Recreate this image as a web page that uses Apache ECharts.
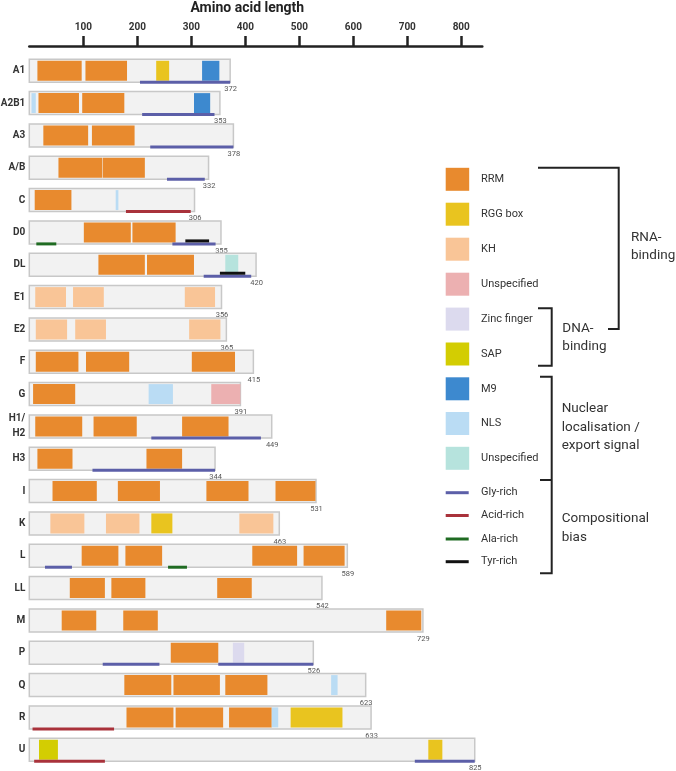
<!DOCTYPE html>
<html><head><meta charset="utf-8">
<script src="https://cdn.jsdelivr.net/npm/echarts@6/dist/echarts.min.js"></script>
<style>html,body{margin:0;padding:0;background:#fff}#c{width:676px;height:771px}</style>
</head><body><div id="c"></div>
<script>
// ---------- DATA ----------
const proteins = ['A1','A2B1','A3','A/B','C','D0','DL','E1','E2','F','G','H1/H2','H3','I','K','L','LL','M','P','Q','R','U'];
const lengths  = [372,353,378,332,306,355,420,356,365,415,391,449,344,531,463,589,542,729,526,623,633,825];
const tickValues = [100,200,300,400,500,600,700,800];

const rrm = [
 ['A1',15,97],['A1',104,181],
 ['A2B1',17,92],['A2B1',98,176],
 ['A3',26,109],['A3',116,195],
 ['A/B',54,135],['A/B',136,214],
 ['C',10,78],
 ['D0',101,188],['D0',191,271],
 ['DL',128,214],['DL',218,305],
 ['F',12,91],['F',105,185],['F',301,381],
 ['G',7,85],
 ['H1/H2',11,98],['H1/H2',119,199],['H1/H2',283,369],
 ['H3',15,80],['H3',217,283],
 ['I',43,125],['I',164,242],['I',328,406],['I',456,530],
 ['L',97,165],['L',178,246],['L',413,496],['L',508,584],
 ['LL',75,140],['LL',152,215],['LL',348,412],
 ['M',60,124],['M',174,238],['M',661,726],
 ['P',262,350],
 ['Q',176,263],['Q',267,353],['Q',363,441],
 ['R',180,267],['R',271,359],['R',370,449]
];
const rggBox     = [['A1',235,259],['K',226,265],['R',484,580],['U',739,765]];
const kh         = [['E1',11,68],['E1',81,138],['E1',288,344],['E2',12,70],['E2',85,142],['E2',296,354],['K',39,102],['K',142,204],['K',389,452]];
const rnaUnspec  = [['G',337,391]];
const zincFinger = [['P',377,398]];
const sap        = [['U',18,53]];
const m9         = [['A1',320,352],['A2B1',305,335]];
const nls        = [['A2B1',4,12],['C',160,165],['G',221,266],['Q',559,571],['R',449,461]];
const nesUnspec  = [['DL',363,387]];
const glyRich    = [['A1',205,372],['A2B1',209,343],['A3',224,378],['A/B',255,325],['D0',265,345],['DL',323,411],['H1/H2',226,429],['H3',117,344],['L',29,79],['P',136,241],['P',350,526],['U',714,825]];
const acidRich   = [['C',179,299],['R',6,157],['U',9,140]];
const alaRich    = [['D0',13,50],['L',257,292]];
const tyrRich    = [['D0',289,333],['DL',353,400]];

const legendBoxLabels  = ['RRM','RGG box','KH','Unspecified','Zinc finger','SAP','M9','NLS','Unspecified'];
const legendLineLabels = ['Gly-rich','Acid-rich','Ala-rich','Tyr-rich'];

// ---------- STYLE ----------
const C = {
  rrm:'#e88a2e', rgg:'#e9c41f', kh:'#f9c597', rnaU:'#ecb0b1', zinc:'#dcdaee', sap:'#d3cd02',
  m9:'#3d89cf', nls:'#badcf4', nesU:'#b6e3dd',
  gly:'#5c5fa8', acid:'#a9323b', ala:'#1f6b22', tyr:'#111111'
};
const boxColors = [C.rrm,C.rgg,C.kh,C.rnaU,C.zinc,C.sap,C.m9,C.nls,C.nesU];
const lineColors = [C.gly,C.acid,C.ala,C.tyr];
const BOX = 0.71;
const FONT = 'Roboto';

const toData = arr => arr.map(d => [proteins.indexOf(d[0]), d[1], d[2]]);

function boxItem(params, api){
  const c = api.value(0), len = api.value(2);
  const a = api.coord([0, c]), b = api.coord([len, c]);
  const h = api.size([0,1])[1]*BOX;
  return {type:'group', children:[
    {type:'rect', shape:{x:a[0], y:a[1]-h/2, width:b[0]-a[0], height:h},
     style:{fill:'#f2f2f2', stroke:'#c8c8c8', lineWidth:1.5}},
    {type:'text', x:b[0]+0.5, y:a[1]+h/2+6.8,
     style:{text:String(len), fill:'#555', fontSize:7.5, fontFamily:FONT, align:'center', verticalAlign:'middle'}}
  ]};
}
function domainItem(color){
  return function(params, api){
    const c = api.value(0);
    const a = api.coord([api.value(1), c]), b = api.coord([api.value(2), c]);
    const h = api.size([0,1])[1]*BOX - 3;
    return {type:'rect', shape:{x:a[0], y:a[1]-h/2, width:b[0]-a[0], height:h}, style:{fill:color}};
  };
}
function lineItem(color, dy){
  return function(params, api){
    const c = api.value(0);
    const a = api.coord([api.value(1), c]), b = api.coord([api.value(2), c]);
    const h = api.size([0,1])[1]*BOX;
    const y = a[1]+h/2+dy;
    return {type:'rect', shape:{x:a[0], y:y-1.5, width:b[0]-a[0], height:3}, style:{fill:color}};
  };
}
function custom(name, data, fn, z){
  return {type:'custom', name, data: toData(data), renderItem: fn, encode:{x:[1,2], y:0}, clip:false, z: z, silent:true};
}

const boxData = proteins.map((p,i)=>[p,0,lengths[i]]);

const series = [
  custom('box', boxData, boxItem, 2),
  custom('RRM', rrm, domainItem(C.rrm), 3),
  custom('RGG box', rggBox, domainItem(C.rgg), 3),
  custom('KH', kh, domainItem(C.kh), 3),
  custom('Unspecified RNA', rnaUnspec, domainItem(C.rnaU), 3),
  custom('Zinc finger', zincFinger, domainItem(C.zinc), 3),
  custom('SAP', sap, domainItem(C.sap), 3),
  custom('M9', m9, domainItem(C.m9), 3),
  custom('NLS', nls, domainItem(C.nls), 3),
  custom('Unspecified NES', nesUnspec, domainItem(C.nesU), 3),
  custom('Gly-rich', glyRich, lineItem(C.gly, 0), 4),
  custom('Acid-rich', acidRich, lineItem(C.acid, 0), 4),
  custom('Ala-rich', alaRich, lineItem(C.ala, 0), 4),
  custom('Tyr-rich', tyrRich, lineItem(C.tyr, -3), 5)
];

// ---------- LEGEND / BRACKETS (graphic) ----------
const graphic = [];
const boxYs = [179.3,214.2,249.2,284.2,319.1,354,388.8,423.5,458.3];
legendBoxLabels.forEach((t,i)=>{
  graphic.push({type:'rect', shape:{x:445.7, y:boxYs[i]-11.5, width:23.5, height:23}, style:{fill:boxColors[i]}});
  graphic.push({type:'text', x:481, y:boxYs[i], style:{text:t, fill:'#333', fontSize:11, fontFamily:FONT, verticalAlign:'middle'}});
});
const lineYs = [492.7,515.5,539,561.7];
legendLineLabels.forEach((t,i)=>{
  graphic.push({type:'rect', shape:{x:445.7, y:lineYs[i]-1.5, width:23, height:3}, style:{fill:lineColors[i]}});
  graphic.push({type:'text', x:481, y:lineYs[i], style:{text:t, fill:'#333', fontSize:11, fontFamily:FONT, verticalAlign:'middle'}});
});
const br = {stroke:'#222', lineWidth:2, fill:null};
graphic.push({type:'polyline', shape:{points:[[538,167.7],[618.7,167.7],[618.7,329],[608,329]]}, style:br});
graphic.push({type:'polyline', shape:{points:[[538,308.3],[551.7,308.3],[551.7,365.7],[538,365.7]]}, style:br});
graphic.push({type:'polyline', shape:{points:[[540,376.7],[551.7,376.7],[551.7,573.3],[540,573.3]]}, style:br});
graphic.push({type:'polyline', shape:{points:[[540,480],[551.7,480]]}, style:br});
const bt = (text,x,y)=>({type:'text', x, y, style:{text, fill:'#333', fontSize:13.5, lineHeight:18.5, fontFamily:FONT, verticalAlign:'middle'}});
graphic.push(bt('RNA-\nbinding', 631, 246.8));
graphic.push(bt('DNA-\nbinding', 562.3, 337.5));
graphic.push(bt('Nuclear\nlocalisation /\nexport signal', 561.7, 427.5));
graphic.push(bt('Compositional\nbias', 561.7, 528));

const chart = echarts.init(document.getElementById('c'), null, {renderer:'canvas'});
chart.setOption({
  animation:false,
  backgroundColor:'#fff',
  textStyle:{fontFamily:FONT},
  grid:{left:29.3, right:193.7, top:54.6, bottom:5.1, containLabel:false, outerBoundsMode:'none'},
  xAxis:{
    type:'value', position:'top', min:0, max:839, interval:100, offset:8.5,
    axisLine:{show:true, lineStyle:{color:'#222', width:2.5}},
    axisTick:{show:true, inside:false, length:10, lineStyle:{color:'#222', width:2.5}, customValues:tickValues},
    axisLabel:{customValues:tickValues, fontSize:10, fontWeight:'bold', color:'#333', margin:14, fontFamily:FONT},
    splitLine:{show:false},
    name:'Amino acid length', nameLocation:'middle', nameGap:31,
    nameTextStyle:{fontSize:14, fontWeight:'bold', color:'#222', fontFamily:FONT, padding:[0,17,0,0]}
  },
  yAxis:{
    type:'category', data:proteins, inverse:true,
    axisLine:{show:false}, axisTick:{show:false}, splitLine:{show:false},
    axisLabel:{fontSize:10, fontWeight:'bold', color:'#333', margin:4, fontFamily:FONT, lineHeight:15,
      formatter: v => v === 'H1/H2' ? 'H1/\nH2' : v}
  },
  series,
  graphic
});
</script></body></html>
